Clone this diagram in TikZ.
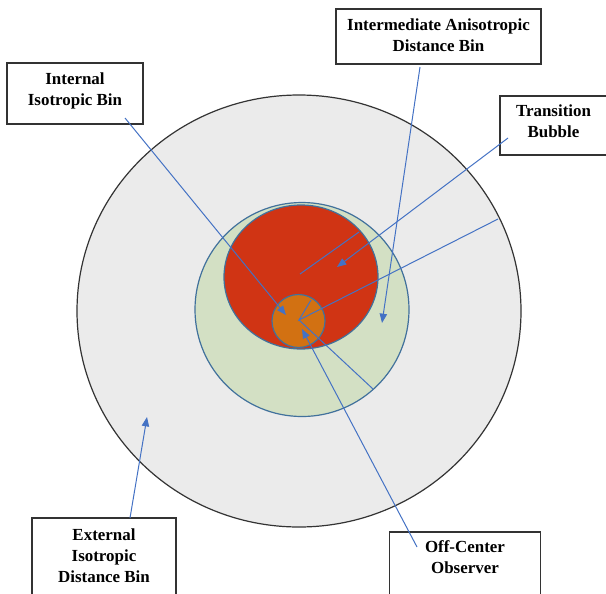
\documentclass[tikz,border=0pt]{standalone}
\usepackage{fontspec}
\setmainfont{Liberation Serif}
\usetikzlibrary{arrows.meta}

\definecolor{shellgray}{RGB}{235,235,235}
\definecolor{bubblegreen}{RGB}{211,224,196}
\definecolor{binred}{RGB}{208,52,20}
\definecolor{obsorange}{RGB}{210,113,18}
\definecolor{rimblue}{RGB}{65,113,156}
\definecolor{callblue}{RGB}{68,114,196}

\tikzstyle{callbox} = [rectangle, anchor=base, draw=black!80, fill=white, line width=0.9pt, align=center, inner xsep=0pt, inner ysep=0pt, font=\bfseries\fontsize{12.7}{15.75}\selectfont]
\tikzstyle{pointer} = [draw=callblue, line width=0.75pt, -{Triangle[length=7pt,width=5.5pt]}]
\tikzstyle{radline} = [draw=callblue, line width=0.75pt]
\tikzstyle{rim} = [line width=0.9pt]

\begin{document}
\begin{tikzpicture}[x=0.75pt, y=-0.75pt]
\useasboundingbox (0,0) rectangle (606,593);
\clip (0,0) rectangle (606,593);

% nested regions
\draw[rim, draw=black!80, fill=shellgray] (299,311) ellipse [x radius=222, y radius=216];
\draw[rim, draw=rimblue, fill=bubblegreen] (302,309.5) circle [radius=107];
\draw[rim, draw=rimblue, fill=binred] (301,277) ellipse [x radius=77, y radius=72];
\draw[rim, draw=rimblue, fill=obsorange] (298.5,321) circle [radius=26.5];

% label boxes
\node (intbin) [callbox, minimum width=102pt, text height=31.7pt, text depth=14pt] at (75,105.3) {Internal\\Isotropic Bin};
\node (midbin) [callbox, minimum width=153.75pt, text height=32pt, text depth=9.2pt] at (438.5,51.7) {Intermediate Anisotropic\\Distance Bin};
\node (bubble) [callbox, minimum width=80.25pt, text height=31.3pt, text depth=13pt] at (553.5,137.7) {Transition\\Bubble};
\node (extbin) [callbox, minimum width=108pt, text height=48.5pt, text depth=13pt] at (104,582.7) {External\\Isotropic\\Distance Bin};
\node (observer) [callbox, minimum width=113.6pt, text height=31pt, text depth=20pt] at (465,573.3) {Off-Center\\Observer};

% points
\coordinate (obs) at (299,320);
\coordinate (redc) at (300,274);
\coordinate (redrim) at (359,232);
\coordinate (orangerim) at (311,300);
\coordinate (greenrim) at (373,389);
\coordinate (outerrim) at (498,219);

\coordinate (intfoot) at (125,118);
\coordinate (midfoot) at (420,67);
\coordinate (bubfoot) at (508,138);
\coordinate (extfoot) at (130,518);
\coordinate (obsfoot) at (417,547);

\coordinate (inttip) at (286,315);
\coordinate (midtip) at (382,323);
\coordinate (bubtip) at (337,267);
\coordinate (exttip) at (147,417);
\coordinate (obstip) at (302,329);

% radii
\draw[radline] (redc) -- (redrim);
\draw[radline] (orangerim) -- (obs) -- (outerrim);
\draw[radline] (obs) -- (greenrim);

% callout pointers
\draw[pointer] (intfoot) -- (inttip);
\draw[pointer] (midfoot) -- (midtip);
\draw[pointer] (bubfoot) -- (bubtip);
\draw[pointer] (extfoot) -- (exttip);
\draw[pointer] (obsfoot) -- (obstip);

\end{tikzpicture}
\end{document}
